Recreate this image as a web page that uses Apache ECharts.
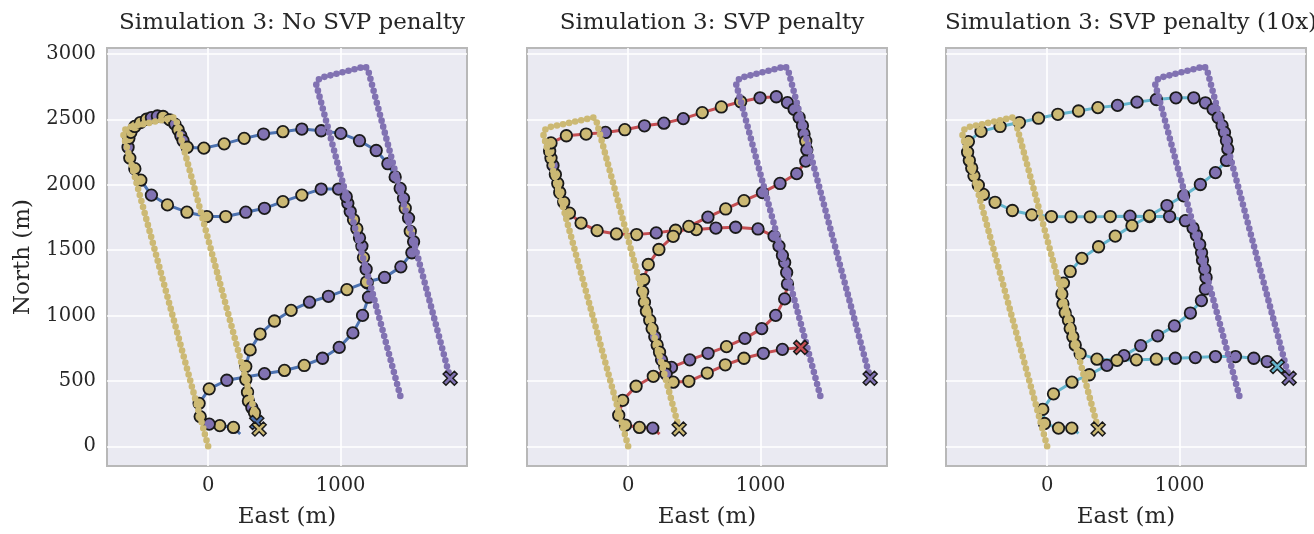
<!DOCTYPE html>
<html>
<head>
<meta charset="utf-8">
<script src="https://cdn.jsdelivr.net/npm/echarts@6/dist/echarts.min.js"></script>
<style>
html, body { margin: 0; padding: 0; background: #fff; }
#chart { width: 1314px; height: 534px; }
</style>
</head>
<body>
<div id="chart"></div>
<script>
// panel titles
const titles = [
  "Simulation 3: No SVP penalty",
  "Simulation 3: SVP penalty",
  "Simulation 3: SVP penalty (10x)",
];
const xTicks = [0, 1000];
const yTicks = [0, 500, 1000, 1500, 2000, 2500, 3000];

// planned paths of the two vehicles (same in every panel), corners only
const yellowPath = [
  [0, 0], [-640, 2385], [-628, 2420], [-595, 2440], [-262, 2514],
  [-240, 2490], [385, 132],
];
const purplePath = [
  [1450, 385], [815, 2770], [828, 2800], [850, 2818], [1185, 2905],
  [1205, 2885], [1826, 520],
];
const yellowEnd = [385, 132];
const purpleEnd = [1826, 520];

// estimated trajectory: [east, north, vehicle (0 = yellow, 1 = purple)]
const noPenaltyStart = [242, 94];
const noPenaltyEnd = [367, 182];
const noPenalty = [
  [191,144,0],[88,158,0],[8,169,1],[-60,227,0],[-68,328,0],[8,439,0],[141,505,1],
  [425,555,1],[576,580,0],[725,618,0],[863,673,1],[989,756,1],[1092,867,1],[1165,1001,1],
  [1210,1140,1],[1200,1250,0],[1192,1354,1],[1172,1443,0],[1160,1531,1],[1142,1594,1],
  [1122,1664,0],[1097,1732,0],[1072,1795,1],[1054,1858,1],[1042,1909,1],[984,1967,1],
  [853,1967,1],[707,1921,0],[564,1871,0],[425,1820,1],[284,1790,1],[133,1757,0],
  [-10,1757,0],[-160,1790,0],[-307,1846,0],[-428,1921,1],[-508,2035,0],[-553,2123,0],
  [-591,2204,0],[-604,2287,1],[-598,2355,0],[-583,2401,0],[-553,2446,0],[-511,2476,0],
  [-465,2501,0],[-428,2514,1],[-383,2526,1],[-340,2522,0],[-289,2496,0],[-251,2464,1],
  [-226,2421,0],[-206,2375,1],[-189,2337,1],[-158,2287,0],[-32,2280,0],[121,2313,0],
  [272,2355,0],[418,2388,1],[564,2406,0],[707,2426,1],[853,2413,1],[1001,2393,1],
  [1142,2337,1],[1268,2262,1],[1356,2161,1],[1411,2060,1],[1449,1972,1],[1474,1896,1],
  [1487,1820,0],[1512,1745,1],[1525,1644,0],[1550,1564,1],[1537,1480,1],[1454,1372,1],
  [1331,1291,1],[1195,1256,0],[1047,1198,0],[908,1147,1],[765,1102,1],[626,1039,0],
  [500,958,0],[392,858,0],[317,737,0],[284,610,0],[284,510,0],[297,414,0],[304,346,0],
  [330,295,1],[350,257,0],
];

const svpStart = [237, 93];
const svpEnd = [1302, 756];
const svpPenalty = [
  [186,139,1],[85,144,0],[-20,162,0],[-71,237,0],[-41,351,0],[60,459,0],[190,535,0],
  [327,603,1],[465,661,1],[603,711,1],[742,762,0],[881,825,1],[1008,900,1],[1113,1001,1],
  [1181,1127,1],[1202,1241,1],[1196,1329,1],[1181,1405,1],[1164,1460,1],[1138,1531,1],
  [1101,1607,1],[980,1662,1],[811,1675,1],[662,1669,1],[514,1657,0],[358,1652,0],
  [212,1632,1],[64,1619,0],[-88,1624,0],[-234,1649,0],[-355,1707,0],[-443,1783,0],
  [-486,1866,0],[-516,1941,0],[-531,2010,0],[-549,2078,0],[-567,2148,1],[-582,2204,0],
  [-592,2257,0],[-582,2320,0],[-466,2375,0],[-317,2388,0],[-171,2400,1],[-25,2421,0],
  [123,2451,1],[270,2471,1],[416,2506,1],[559,2552,0],[703,2595,0],[849,2635,0],
  [995,2665,1],[1118,2673,1],[1202,2628,1],[1252,2577,1],[1290,2514,1],[1315,2451,1],
  [1327,2388,1],[1340,2333,0],[1348,2267,1],[1340,2181,1],[1272,2085,1],[1146,2010,1],
  [1013,1940,1],[874,1878,0],[736,1815,0],[602,1752,1],[458,1682,0],[340,1606,0],
  [232,1505,0],[152,1390,0],[118,1274,0],[110,1183,0],[123,1102,0],[138,1032,0],
  [163,964,0],[181,900,0],[201,837,1],[219,775,0],[237,719,0],[252,661,1],[277,610,0],
  [287,552,1],[340,490,0],[458,497,0],[597,560,0],[733,623,0],[874,673,0],[1020,711,1],
  [1164,741,1],
];

const svp10Start = [237, 98];
const svp10End = [1736, 610];
const svpPenalty10 = [
  [186,139,0],[86,139,0],[-20,174,0],[-33,282,0],[48,401,0],[187,490,0],[318,547,0],
  [451,619,1],[580,693,1],[706,769,1],[834,845,1],[960,920,1],[1081,1019,1],[1164,1114,1],
  [1194,1203,1],[1199,1291,1],[1189,1354,1],[1172,1425,1],[1165,1480,1],[1151,1543,1],
  [1126,1614,1],[1101,1669,1],[1043,1725,1],[924,1757,1],[773,1757,0],[625,1760,1],
  [476,1757,0],[325,1755,0],[180,1755,0],[32,1757,0],[-116,1770,0],[-262,1803,0],
  [-393,1866,0],[-481,1926,0],[-519,1997,0],[-552,2068,0],[-569,2128,0],[-587,2186,0],
  [-600,2249,0],[-594,2330,0],[-499,2408,0],[-355,2446,0],[-209,2476,0],[-65,2509,0],
  [81,2539,0],[237,2564,0],[383,2590,0],[531,2607,1],[678,2632,1],[824,2652,1],
  [972,2665,1],[1106,2665,1],[1194,2627,1],[1252,2577,1],[1290,2514,1],[1320,2451,1],
  [1338,2400,1],[1353,2337,1],[1363,2274,1],[1353,2186,1],[1270,2093,1],[1156,2002,1],
  [1030,1916,1],[904,1841,1],[772,1762,0],[640,1687,0],[514,1607,0],[388,1526,0],
  [262,1437,0],[174,1337,0],[123,1248,0],[111,1165,0],[119,1089,0],[136,1021,0],
  [161,964,0],[174,900,0],[194,837,0],[212,775,0],[249,707,0],[376,666,0],[527,657,0],
  [673,661,0],[824,666,0],[967,673,1],[1118,678,1],[1270,686,1],[1421,686,1],
  [1559,673,1],[1660,648,1],
];

const YELLOW = "#CCB974";
const PURPLE = "#8172B2";
const EDGE = "#1a1a1a";
const FONT = "DejaVu Serif";
const TEXT = "#262626";
const X_SYMBOL = "path://M2,0 L5,3 L8,0 L10,2 L7,5 L10,8 L8,10 L5,7 L2,10 L0,8 L3,5 L0,2 Z";

const panels = [
  { est: noPenalty, start: noPenaltyStart, end: noPenaltyEnd, color: "#4C72B0", left: 107 },
  { est: svpPenalty, start: svpStart, end: svpEnd, color: "#C44E52", left: 527 },
  { est: svpPenalty10, start: svp10Start, end: svp10End, color: "#64B5CD", left: 946 },
];

const chart = echarts.init(document.getElementById("chart"));
const option = {
  animation: false,
  backgroundColor: "#fff",
  title: [],
  grid: [],
  xAxis: [],
  yAxis: [],
  series: [],
};

panels.forEach((p, i) => {
  option.title.push({
    text: titles[i],
    left: p.left + 180,
    top: 7,
    textAlign: "center",
    textStyle: { fontFamily: FONT, fontSize: 23, fontWeight: "normal", color: TEXT },
  });
  option.grid.push({
    left: p.left, top: 48, width: 360, height: 423,
    show: true, backgroundColor: "#EAEAF2", borderColor: "#b8b8b8", borderWidth: 2,
  });
  option.xAxis.push({
    gridIndex: i, type: "value", min: -763, max: 1953, splitNumber: 2,
    axisLine: { show: false }, axisTick: { show: false },
    axisLabel: {
      showMinLabel: false, showMaxLabel: false, margin: 10,
      fontFamily: FONT, fontSize: 19.5, color: TEXT,
      formatter: v => (xTicks.includes(v) ? String(v) : ""),
    },
    splitLine: { show: true, showMinLine: false, showMaxLine: false, lineStyle: { color: "#fff", width: 1.6 } },
    name: "East (m)", nameLocation: "middle", nameGap: 40,
    nameTextStyle: { fontFamily: FONT, fontSize: 23, color: TEXT },
  });
  option.yAxis.push({
    gridIndex: i, type: "value", min: -151, max: 3046, splitNumber: 6,
    axisLine: { show: false }, axisTick: { show: false },
    axisLabel: {
      show: i === 0, showMinLabel: false, showMaxLabel: false, margin: 11,
      fontFamily: FONT, fontSize: 19.5, color: TEXT,
      formatter: v => (yTicks.includes(v) ? String(v) : ""),
    },
    splitLine: { show: true, showMinLine: false, showMaxLine: false, lineStyle: { color: "#fff", width: 1.6 } },
    name: i === 0 ? "North (m)" : "", nameLocation: "middle", nameGap: 72, nameRotate: 90,
    nameTextStyle: { fontFamily: FONT, fontSize: 23, color: TEXT },
  });

  // trajectory line
  option.series.push({
    type: "line", xAxisIndex: i, yAxisIndex: i, z: 2,
    symbol: "none",
    data: [p.start].concat(p.est.map(d => [d[0], d[1]]), [p.end]),
    lineStyle: { color: p.color, width: 3 },
  });
  // estimated positions
  option.series.push({
    type: "scatter", xAxisIndex: i, yAxisIndex: i, z: 3,
    symbolSize: 11.5,
    data: p.est,
    itemStyle: {
      color: params => (params.data[2] ? PURPLE : YELLOW),
      borderColor: EDGE, borderWidth: 1.8, opacity: 1,
    },
  });
  // planned paths as dotted lines
  [[yellowPath, YELLOW], [purplePath, PURPLE]].forEach(([path, c]) => {
    option.series.push({
      type: "line", xAxisIndex: i, yAxisIndex: i, z: 4,
      symbol: "none", data: path,
      lineStyle: { color: c, width: 6.6, type: [0, 6.2], cap: "round" },
    });
  });
  // end markers
  option.series.push({
    type: "scatter", xAxisIndex: i, yAxisIndex: i, z: 5,
    symbol: X_SYMBOL, symbolSize: 14,
    data: [
      { value: p.end, itemStyle: { color: p.color } },
      { value: yellowEnd, itemStyle: { color: YELLOW } },
      { value: purpleEnd, itemStyle: { color: PURPLE } },
    ],
    itemStyle: { borderColor: EDGE, borderWidth: 1.5, opacity: 1 },
  });
});

chart.setOption(option);
</script>
</body>
</html>
